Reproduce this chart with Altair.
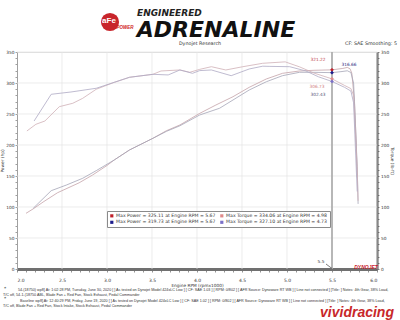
import altair as alt
import pandas as pd

# ---------------- data ----------------
series_names = ["Power 1", "Power 2", "Torque 1", "Torque 2"]
series_colors = ["#c4a2a8", "#a4a4b6", "#cfb0b6", "#afaac4"]

power_r1_rpm = [2.10, 2.18, 2.29, 2.45, 2.69, 2.84, 3.00, 3.08, 3.25, 3.51, 3.66, 3.81, 4.03, 4.21,
                4.40, 4.58, 4.77, 4.95, 5.14, 5.30, 5.50, 5.62, 5.67, 5.70, 5.72, 5.75, 5.77, 5.78]
power_r1_hp = [89.8, 97.0, 108.0, 123.0, 139.0, 151.6, 167.0, 175.8, 192.0, 210.8, 223.0, 232.3, 251.0, 264.5,
               277.9, 293.0, 306.5, 315.6, 319.4, 320.5, 321.2, 323.5, 325.1, 323.0, 316.0, 270.0, 200.0, 148.0]

power_r2_rpm = [2.18, 2.38, 2.55, 2.73, 2.88, 3.08, 3.25, 3.51, 3.66, 3.81, 4.03, 4.25, 4.40, 4.58,
                4.77, 4.95, 5.14, 5.30, 5.50, 5.60, 5.67, 5.71, 5.74, 5.76, 5.78, 5.79]
power_r2_hp = [97.9, 126.3, 135.5, 146.3, 158.6, 175.8, 192.0, 210.8, 222.0, 231.0, 248.4, 259.2, 272.6, 288.7,
               302.0, 311.8, 317.3, 317.2, 316.7, 318.3, 319.7, 317.0, 300.0, 235.0, 165.0, 105.0]

torque_r1_rpm = [2.11, 2.21, 2.31, 2.47, 2.62, 2.73, 2.88, 3.08, 3.25, 3.51, 3.60, 3.81, 3.92, 4.03,
                 4.16, 4.32, 4.51, 4.73, 4.98, 5.14, 5.30, 5.50, 5.64, 5.71, 5.74, 5.76, 5.78, 5.79]
torque_r1_lbft = [222.6, 233.4, 238.7, 261.8, 267.3, 275.3, 289.9, 301.0, 309.2, 314.0, 319.4, 321.0, 317.3, 322.0,
                  326.3, 321.0, 326.3, 331.8, 334.1, 326.0, 316.0, 306.7, 296.0, 291.0, 280.0, 220.0, 160.0, 110.0]

torque_r2_rpm = [2.19, 2.38, 2.60, 2.88, 3.08, 3.25, 3.51, 3.68, 3.81, 3.95, 4.03, 4.16, 4.38, 4.58,
                 4.73, 4.81, 5.03, 5.21, 5.35, 5.50, 5.64, 5.71, 5.74, 5.76, 5.78]
torque_r2_lbft = [238.7, 281.8, 285.5, 291.5, 301.1, 309.2, 314.0, 313.0, 321.0, 315.6, 320.0, 321.0, 311.8, 322.6,
                  327.1, 326.8, 326.3, 319.4, 310.0, 302.4, 293.0, 287.0, 268.0, 195.0, 125.0]

cursor_rpm = 5.5
power_cursor_vals = [321.22, 316.66]
torque_cursor_vals = [306.73, 302.43]

# legend order is column-major: col 1 = power, col 2 = torque
legend_labels = ["Max Power = 325.11 at Engine RPM = 5.67", "Max Power = 319.73 at Engine RPM = 5.67",
                 "Max Torque = 334.06 at Engine RPM = 4.98", "Max Torque = 327.10 at Engine RPM = 4.73"]
legend_colors = ["#c0202a", "#1c1c8c", "#e08a8a", "#7a70c8"]

grid_x = [2.5, 3.0, 3.5, 4.0, 4.5, 5.0, 5.5, 6.0]
grid_y = [50, 100, 150, 200, 250, 300, 350]
x_ticks = [round(2 + 0.1 * i, 1) for i in range(41)]
y_ticks = list(range(0, 351, 10))

notes = [
    "54-(18750) wp8] At: 1:02:28 PM, Tuesday, June 30, 2020 [ ] As tested on Dynojet Model 424xLC Low ] [ CF: SAE 1.03 ] [ RPM: 0/802 ] [ AFR Source: Dynoware RT WB ] [ Line not connected ] [Title: ] Notes: 4th Gear, 38% Load,",
    "T/C off, 54-1-(18750 ABL, Blade Fan + Red Fan, Stock Exhaust, Pedal Commander",
    "Baseline wp8] At: 12:40:29 PM, Friday, June 19, 2020 [ ] As tested on Dynojet Model 424xLC Low ] [ CF: SAE 1.02 ] [ RPM: 0/802 ] [ AFR Source: Dynoware RT WB ] [ Line not connected ] [Title: ] Notes: 4th Gear, 38% Load,",
    "T/C off, Blade Fan + Red Fan, Stock Intake, Stock Exhaust, Pedal Commander",
]

# ---------------- tables ----------------
def frame(rpm, val, name):
    return pd.DataFrame({"rpm": rpm, "value": val, "series": name})

power_df = pd.concat([frame(power_r1_rpm, power_r1_hp, series_names[0]),
                      frame(power_r2_rpm, power_r2_hp, series_names[1])])
torque_df = pd.concat([frame(torque_r1_rpm, torque_r1_lbft, series_names[2]),
                       frame(torque_r2_rpm, torque_r2_lbft, series_names[3])])
pmark_df = pd.DataFrame({"rpm": [cursor_rpm] * 2, "value": power_cursor_vals,
                         "label": [legend_labels[0], legend_labels[1]]})
tmark_df = pd.DataFrame({"rpm": [cursor_rpm] * 2, "value": torque_cursor_vals,
                         "label": [legend_labels[2], legend_labels[3]]})

FONT = "DejaVu Sans"
X = alt.Scale(domain=[2, 6], nice=False, zero=False)
Y = alt.Scale(domain=[0, 350], nice=False, zero=True)

x_axis = alt.Axis(orient="bottom", values=x_ticks,
                  labelExpr="abs(datum.value*2 - round(datum.value*2)) < 0.01 ? format(datum.value, '.1f') : ''",
                  grid=False, domainColor="#707070", domainWidth=3, tickColor="#4a4a4a", tickSize=3,
                  tickWidth=0.6, labelFontSize=4.5, labelColor="#333", labelPadding=5, labelFont=FONT,
                  title="Engine RPM (rpmx1000)", titleFontSize=4.3, titleFontWeight="normal",
                  titleColor="#333", titlePadding=2, titleFont=FONT)
left_axis = alt.Axis(orient="left", values=y_ticks, labelExpr="datum.value % 50 == 0 ? datum.value : ''",
                     grid=False, domainColor="#a0a0a0", tickColor="#a0a0a0", tickSize=2, labelFontSize=4.3,
                     labelColor="#333", labelPadding=1, labelFont=FONT, title="Power (hp)",
                     titleFontSize=4.3, titleFontWeight="normal", titleColor="#333", titlePadding=1,
                     titleFont=FONT)
right_axis = alt.Axis(orient="right", values=y_ticks, labelExpr="datum.value % 50 == 0 ? datum.value : ''",
                      grid=False, domainColor="#555", domainWidth=2, tickColor="#888", tickSize=2,
                      labelFontSize=4.3, labelColor="#333", labelPadding=1.5, labelFont=FONT,
                      title="Torque (lb-ft)", titleFontSize=4.3, titleFontWeight="normal", titleColor="#333",
                      titlePadding=1, titleFont=FONT)

legend = alt.Legend(orient="none", legendX=90, legendY=159, columns=2, title=None, fillColor="white",
                    strokeColor="#8a8a8a", padding=2.5, symbolType="square", symbolSize=10,
                    symbolStrokeWidth=0, labelFontSize=4.6, labelColor="#333", labelFont=FONT,
                    rowPadding=1.5, columnPadding=4, labelLimit=0, labelOffset=2)
color = alt.Color("label:N", scale=alt.Scale(domain=legend_labels, range=legend_colors), legend=legend)
stroke = alt.Stroke("series:N", scale=alt.Scale(domain=series_names, range=series_colors), legend=None)


def note(text, x, y, size=5.0, col="#333", align="center", weight="normal", style="normal", font=FONT):
    return alt.Chart(alt.Data(values=[{"t": text}])).mark_text(
        align=align, baseline="middle", fontSize=size, color=col, fontWeight=weight,
        fontStyle=style, font=font).encode(x=alt.value(x), y=alt.value(y), text="t:N")


def ydata(axis=None):
    return alt.Y("value:Q", scale=Y, axis=axis)


def xdata():
    # every layer carries the same shared x axis definition so that it merges cleanly
    return alt.X("rpm:Q", scale=X, axis=x_axis)


# ---------------- layers ----------------
gx = alt.Chart(pd.DataFrame({"rpm": grid_x})).mark_rule(color="#e4e4e4", strokeWidth=0.7).encode(x=xdata())
gy = alt.Chart(pd.DataFrame({"value": grid_y})).mark_rule(color="#e4e4e4", strokeWidth=0.7).encode(y=ydata())
cursor = alt.Chart(pd.DataFrame({"rpm": [cursor_rpm]})).mark_rule(color="#a8a8a8", strokeWidth=1.6).encode(
    x=xdata())

power_lines = alt.Chart(power_df).mark_line(strokeWidth=0.8).encode(
    x=xdata(), y=ydata(left_axis), stroke=stroke, detail="series:N")
torque_lines = alt.Chart(torque_df).mark_line(strokeWidth=0.8).encode(
    x=xdata(), y=ydata(right_axis), stroke=stroke, detail="series:N")

power_marks = alt.Chart(pmark_df).mark_point(shape="diamond", filled=True, size=14, opacity=1).encode(
    x=xdata(), y=ydata(), color=color)
torque_marks = alt.Chart(tmark_df).mark_point(shape="diamond", filled=True, size=14, opacity=1).encode(
    x=xdata(), y=ydata(), color=color)


def val_label(df, row, dx, dy, col):
    return alt.Chart(df.iloc[[row]]).mark_text(dx=dx, dy=dy, fontSize=4.3, color=col, font=FONT).encode(
        x=xdata(), y=ydata(), text=alt.Text("value:Q", format=".2f"))


cursor_label = alt.Chart(pd.DataFrame({"rpm": [cursor_rpm]})).mark_text(
    dx=-11, fontSize=4.3, color="#333", font=FONT).encode(
    x=xdata(), y=alt.value(210), text=alt.Text("rpm:Q", format=".1f"))
arrow = alt.Chart(alt.Data(values=[{}])).mark_rule(color="#222", strokeWidth=0.6).encode(
    x=alt.value(309), x2=alt.value(315), y=alt.value(212), y2=alt.value(216.5))

shadow = alt.Chart(alt.Data(values=[{}])).mark_rect(color="#666").encode(
    x=alt.value(92), x2=alt.value(313), y=alt.value(161), y2=alt.value(173))

annotations = [
    alt.Chart(alt.Data(values=[{}])).mark_circle(color="#c8252b", size=330, opacity=1).encode(
        x=alt.value(93), y=alt.value(-30)),
    note("aFe", 92, -31, size=8, col="white", weight="bold", font="Liberation Sans"),
    note("POWER", 108, -24, size=4.5, col="#d02020", weight="bold", style="italic", font="Liberation Sans"),
    note("ENGINEERED", 120, -39, size=9, col="#222", align="left", weight="bold", style="italic"),
    note("ADRENALINE", 199, -22.5, size=22, col="#111", weight="bold", style="italic"),
    note("Dynojet Research", 183, -8, size=4.8),
    note("CF: SAE Smoothing: 5", 380, -8, size=4.8, align="right"),
    note("DYNOJET", 349, 215, size=5, col="#c8202a", weight="bold", style="italic", font="Liberation Sans"),
    note("vividracing", 340, 260.5, size=14, col="#c8282a", weight="bold", style="italic", font="Liberation Sans"),
    note("*", -13, 236.5, size=4.5, align="left"),
    note(notes[0], 1, 238, size=3.7, align="left", font="Liberation Sans"),
    note(notes[1], -14, 242.5, size=3.7, align="left", font="Liberation Sans"),
    note("*", -13, 247, size=4.5, align="left"),
    note(notes[2], 3, 249, size=3.7, align="left", font="Liberation Sans"),
    note(notes[3], -14, 253.5, size=3.7, align="left", font="Liberation Sans"),
]

chart = alt.layer(
    gx, gy, cursor, power_lines, torque_lines, shadow, power_marks, torque_marks,
    val_label(pmark_df, 0, -14, -10, "#c04048"),
    val_label(pmark_df, 1, 17, -8, "#2a2a80"),
    val_label(tmark_df, 0, -15, 8, "#d08080"),
    val_label(tmark_df, 1, -14, 14, "#555577"),
    cursor_label, arrow, *annotations
).resolve_scale(y="independent").properties(
    width=360, height=217,
    autosize=alt.AutoSizeParams(type="none"),
    padding={"left": 17, "top": 52, "right": 23, "bottom": 51},
    background="white",
).configure_view(stroke="#d8d8d8", strokeWidth=0.7).configure(font=FONT)

chart.save("out.html", embed_options={"renderer": "svg", "actions": False})
